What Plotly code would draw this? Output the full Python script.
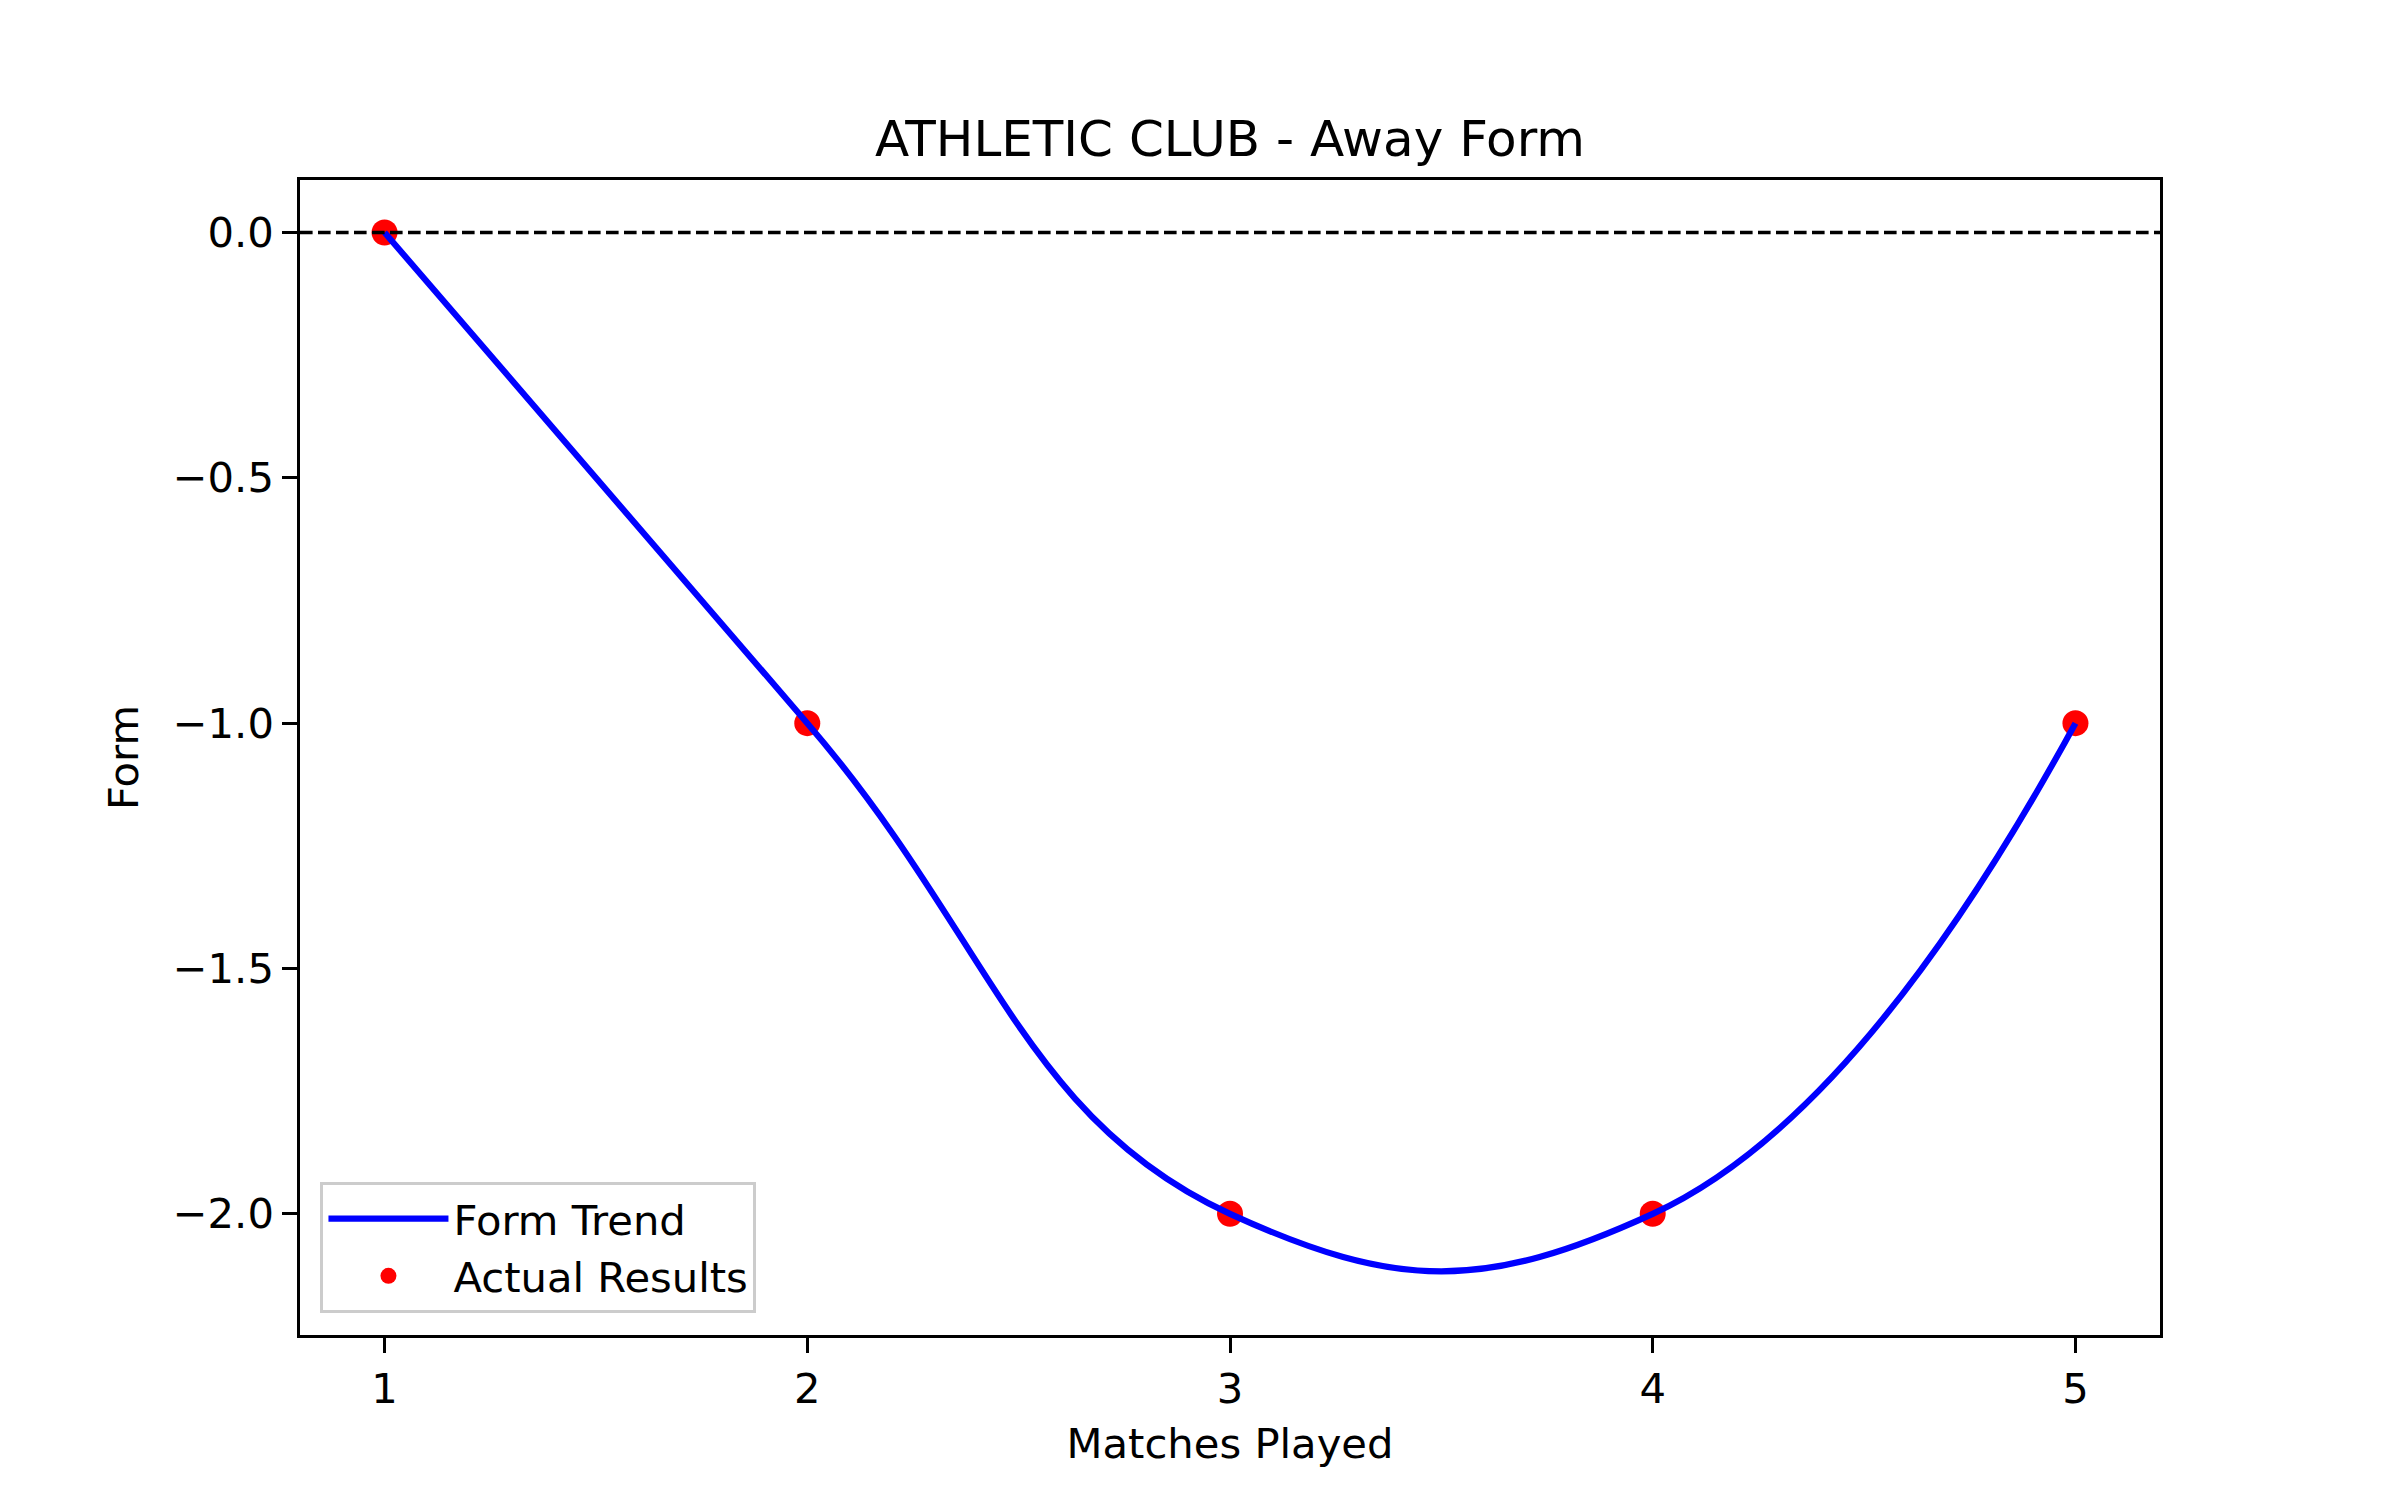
import plotly.graph_objects as go

matches = [1, 2, 3, 4, 5]
form = [0, -1, -2, -2, -1]
y_ticks = [0.0, -0.5, -1.0, -1.5, -2.0]
y_tick_text = ["0.0", "\u22120.5", "\u22121.0", "\u22121.5", "\u22122.0"]
x_ticks = [1, 2, 3, 4, 5]

FONT = "DejaVu Sans"
fig = go.Figure()

fig.add_trace(go.Scatter(
    x=matches, y=form, mode="markers", name="Actual Results",
    marker=dict(color="red", size=26, line=dict(width=0)),
    legendrank=2,
))
fig.add_trace(go.Scatter(
    x=matches, y=form, mode="lines", name="Form Trend",
    line=dict(color="blue", width=6.2, shape="spline", smoothing=1.3),
    legendrank=1,
))

fig.add_shape(type="line", xref="paper", yref="y", x0=0, x1=1, y0=0, y1=0,
              line=dict(color="black", width=3.4, dash="12.6px,5.4px"))

fig.update_layout(
    width=2400, height=1500,
    margin=dict(l=300, r=240, t=180, b=165),
    paper_bgcolor="white", plot_bgcolor="white",
    font=dict(family=FONT, size=41.7, color="black"),
    title=dict(text="ATHLETIC CLUB - Away Form", x=0.5, xanchor="center", xref="paper",
               y=1 - 138 / 1500, yanchor="middle", yref="container",
               font=dict(size=50, family=FONT, color="black")),
    showlegend=True,
    legend=dict(x=0.011, y=0.019, xanchor="left", yanchor="bottom",
                bgcolor="rgba(255,255,255,0.8)", bordercolor="#cccccc",
                borderwidth=3, font=dict(size=41.7, family=FONT),
                tracegroupgap=0, itemwidth=120),
)

fig.update_xaxes(
    range=[0.8, 5.2], tickvals=x_ticks, ticktext=[str(v) for v in x_ticks],
    showgrid=False, zeroline=False, showline=True, linecolor="black", linewidth=3.3,
    mirror=True, ticks="outside", ticklen=14.6, tickwidth=3.3, tickcolor="black",
    title=dict(text="Matches Played", font=dict(size=41.7, family=FONT), standoff=18),
    tickfont=dict(size=41.7, family=FONT),
)
fig.update_yaxes(
    range=[-2.247, 0.107], tickvals=y_ticks, ticktext=y_tick_text,
    showgrid=False, zeroline=False, showline=True, linecolor="black", linewidth=3.3,
    mirror=True, ticks="outside", ticklen=14.6, tickwidth=3.3, tickcolor="black",
    title=dict(text="Form", font=dict(size=41.7, family=FONT), standoff=22),
    tickfont=dict(size=41.7, family=FONT),
)

fig.write_html("out.html")
